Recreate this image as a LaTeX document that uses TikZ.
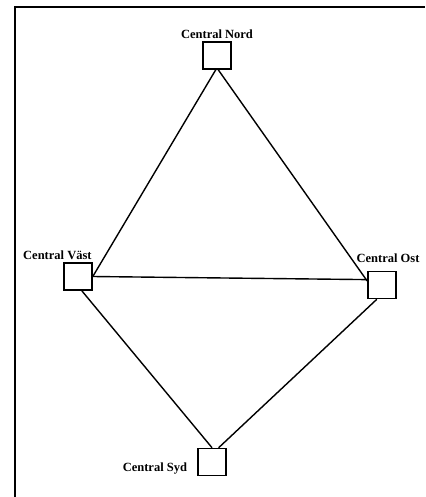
\documentclass[tikz,border=0pt]{standalone}
\usepackage{fontspec}
\setmainfont{Liberation Serif}
\usetikzlibrary{positioning}

\tikzset{
    central/.style={draw,line width=1.6pt,minimum width=28pt,minimum height=27pt,inner sep=0pt},
    lbl/.style={font=\fontsize{12.5}{14}\selectfont\bfseries,inner sep=1pt},
    link/.style={line width=1.4pt}
}

\begin{document}
\begin{tikzpicture}[x=1pt,y=-1pt]
                \useasboundingbox (0,0) rectangle (425,497);
                \draw[line width=1.8pt] (15,497) -- (15,7) -- (425,7);
                \node[central] (nord) at (217,55.5) {};
                \node[central] (vast) at (78,276.5) {};
                \node[central] (ost) at (382,285) {};
                \node[central] (syd) at (212,462) {};
                \node[lbl,above=1pt of nord] (lnord) {Central Nord};
                \node[lbl,anchor=south east] (lvast) at ([yshift=1.5pt]vast.north east) {Central Väst};
                \node[lbl,above=7pt of ost,xshift=6pt] (lost) {Central Ost};
                \node[lbl,left=9pt of syd,yshift=-7pt] (lsyd) {Central Syd};
                \foreach \a/\b in {nord.-95/vast.east,nord.-85/ost.165,vast.east/ost.160,vast.-75/syd.north,ost.-110/syd.65}{
                    \draw[link] (\a) -- (\b);
                }
            \end{tikzpicture}
\end{document}
